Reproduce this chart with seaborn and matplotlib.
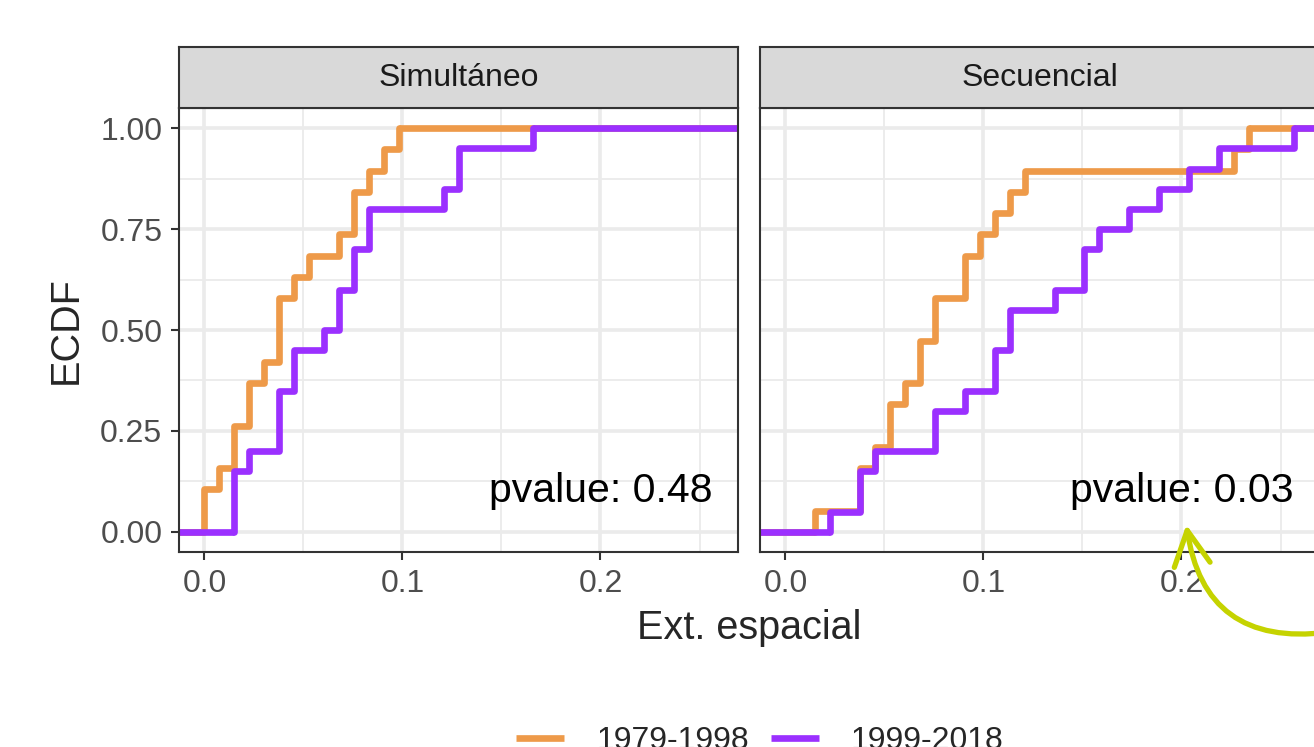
import numpy as np
import pandas as pd
import seaborn as sns
import matplotlib.pyplot as plt
from matplotlib.lines import Line2D
from matplotlib.patches import FancyArrowPatch

# --- DATOS ---
periodos = ['1979-1998', '1999-2018']
paneles = ['Simultáneo', 'Secuencial']
pvalues = ['0.48', '0.03']

sim_1979 = [0.0, 0.0, 0.0075, 0.0151, 0.0151, 0.0226, 0.0226, 0.0302, 0.0377, 0.0377,
            0.0377, 0.0453, 0.0528, 0.0679, 0.0755, 0.0755, 0.0830, 0.0906, 0.0981]
sim_1999 = [0.0151, 0.0151, 0.0151, 0.0226, 0.0377, 0.0377, 0.0377, 0.0453, 0.0453, 0.0604,
            0.0679, 0.0679, 0.0755, 0.0755, 0.0830, 0.0830, 0.1208, 0.1283, 0.1283, 0.1660]
sec_1979 = [0.0151, 0.0377, 0.0377, 0.0453, 0.0528, 0.0528, 0.0604, 0.0679, 0.0679, 0.0755,
            0.0755, 0.0906, 0.0906, 0.0981, 0.1057, 0.1132, 0.1208, 0.2264, 0.2340]
sec_1999 = [0.0226, 0.0377, 0.0377, 0.0453, 0.0755, 0.0755, 0.0906, 0.1057, 0.1057, 0.1132,
            0.1132, 0.1359, 0.1510, 0.1510, 0.1585, 0.1736, 0.1887, 0.2038, 0.2189, 0.2566]

colores = {'1979-1998': '#EE9A49', '1999-2018': '#9B30FF'}

series = {('Simultáneo', '1979-1998'): sim_1979, ('Simultáneo', '1999-2018'): sim_1999,
          ('Secuencial', '1979-1998'): sec_1979, ('Secuencial', '1999-2018'): sec_1999}
df = pd.concat([pd.DataFrame({'ext': v, 'panel': p, 'periodo': per})
                for (p, per), v in series.items()], ignore_index=True)

# --- ESTILO ---
sns.set_style('white')
plt.rcParams['font.family'] = ['Liberation Sans', 'DejaVu Sans']

W, H = 1314, 747
fig = plt.figure(figsize=(W / 100, H / 100), dpi=100)

# posiciones en pixeles (izq, arriba, ancho, alto)
panel_px = [(179, 108, 559, 444), (760, 108, 559, 444)]
strip_h = 61

lo, hi = df['ext'].min(), df['ext'].max()
pad = 0.05 * (hi - lo)
xlim = (lo - pad, hi + pad)
lw = 4.8

for i, ((x0, y0, w, h), panel) in enumerate(zip(panel_px, paneles)):
    ax = fig.add_axes([x0 / W, 1 - (y0 + h) / H, w / W, h / H])
    sub = df[df['panel'] == panel]
    for periodo in periodos:
        d = sub[sub['periodo'] == periodo]
        c = colores[periodo]
        # como stat_ecdf de ggplot: la escalera llega a los bordes del panel
        ax.plot([xlim[0] - 1, d['ext'].min()], [0, 0], color=c, lw=lw, solid_capstyle='butt')
        sns.ecdfplot(data=d, x='ext', color=c, linewidth=lw, ax=ax)
        ax.plot([d['ext'].max(), xlim[1] + 1], [1, 1], color=c, lw=lw, solid_capstyle='butt')
    ax.set_xlim(xlim)
    ax.set_ylim(-0.05, 1.05)
    ax.set_xticks([0.0, 0.1, 0.2])
    ax.set_xticks([0.05, 0.15, 0.25], minor=True)
    ax.set_yticks([0, 0.25, 0.5, 0.75, 1.0])
    ax.set_yticks([0.125, 0.375, 0.625, 0.875], minor=True)
    ax.set_xticklabels(['0.0', '0.1', '0.2'])
    if i == 0:
        ax.set_yticklabels(['0.00', '0.25', '0.50', '0.75', '1.00'])
    else:
        ax.set_yticklabels([])
    ax.grid(True, which='major', color='#EBEBEB', lw=2.6)
    ax.grid(True, which='minor', color='#EBEBEB', lw=1.3)
    ax.set_axisbelow(True)
    ax.tick_params(which='major', length=6, width=1.5, color='#333333', pad=6,
                   labelsize=23, labelcolor='#4D4D4D', left=(i == 0), bottom=True)
    ax.tick_params(which='minor', length=0)
    for s in ax.spines.values():
        s.set_color('#333333')
        s.set_linewidth(1.5)
    ax.set_xlabel('')
    ax.set_ylabel('')
    ax.text(0.2, 0.1, f'pvalue: {pvalues[i]}', ha='center', va='center',
            fontsize=29.5, color='black')

    # tira del facet
    sax = fig.add_axes([x0 / W, 1 - y0 / H, w / W, strip_h / H])
    sax.set_facecolor('#D9D9D9')
    sax.set_xticks([])
    sax.set_yticks([])
    for s in sax.spines.values():
        s.set_color('#333333')
        s.set_linewidth(1.5)
    sax.text(0.5, 0.5, panel, ha='center', va='center', fontsize=23,
             color='#1A1A1A', transform=sax.transAxes)

fig.text(66 / W, 1 - 330 / H, 'ECDF', rotation=90, ha='center', va='center', fontsize=28.5)
fig.text(749 / W, 1 - 628 / H, 'Ext. espacial', ha='center', va='center', fontsize=28.5)

handles = [Line2D([], [], color=colores[p], lw=lw, solid_capstyle='butt') for p in periodos]
fig.legend(handles, periodos, loc='center', bbox_to_anchor=(760 / W, 1 - 741 / H),
           ncol=2, frameon=False, fontsize=23, handlelength=1.5, handletextpad=1.0,
           columnspacing=0.7)

# flecha verde
arrow = FancyArrowPatch((1330 / W, 1 - 632 / H), (1186 / W, 1 - 522 / H),
                        transform=fig.transFigure, connectionstyle='arc3,rad=-0.5',
                        arrowstyle='->,head_length=0.5,head_width=0.26',
                        mutation_scale=50, color='#C5D300', lw=3.8)
fig.patches.append(arrow)

fig.savefig('out.png', dpi=100)
